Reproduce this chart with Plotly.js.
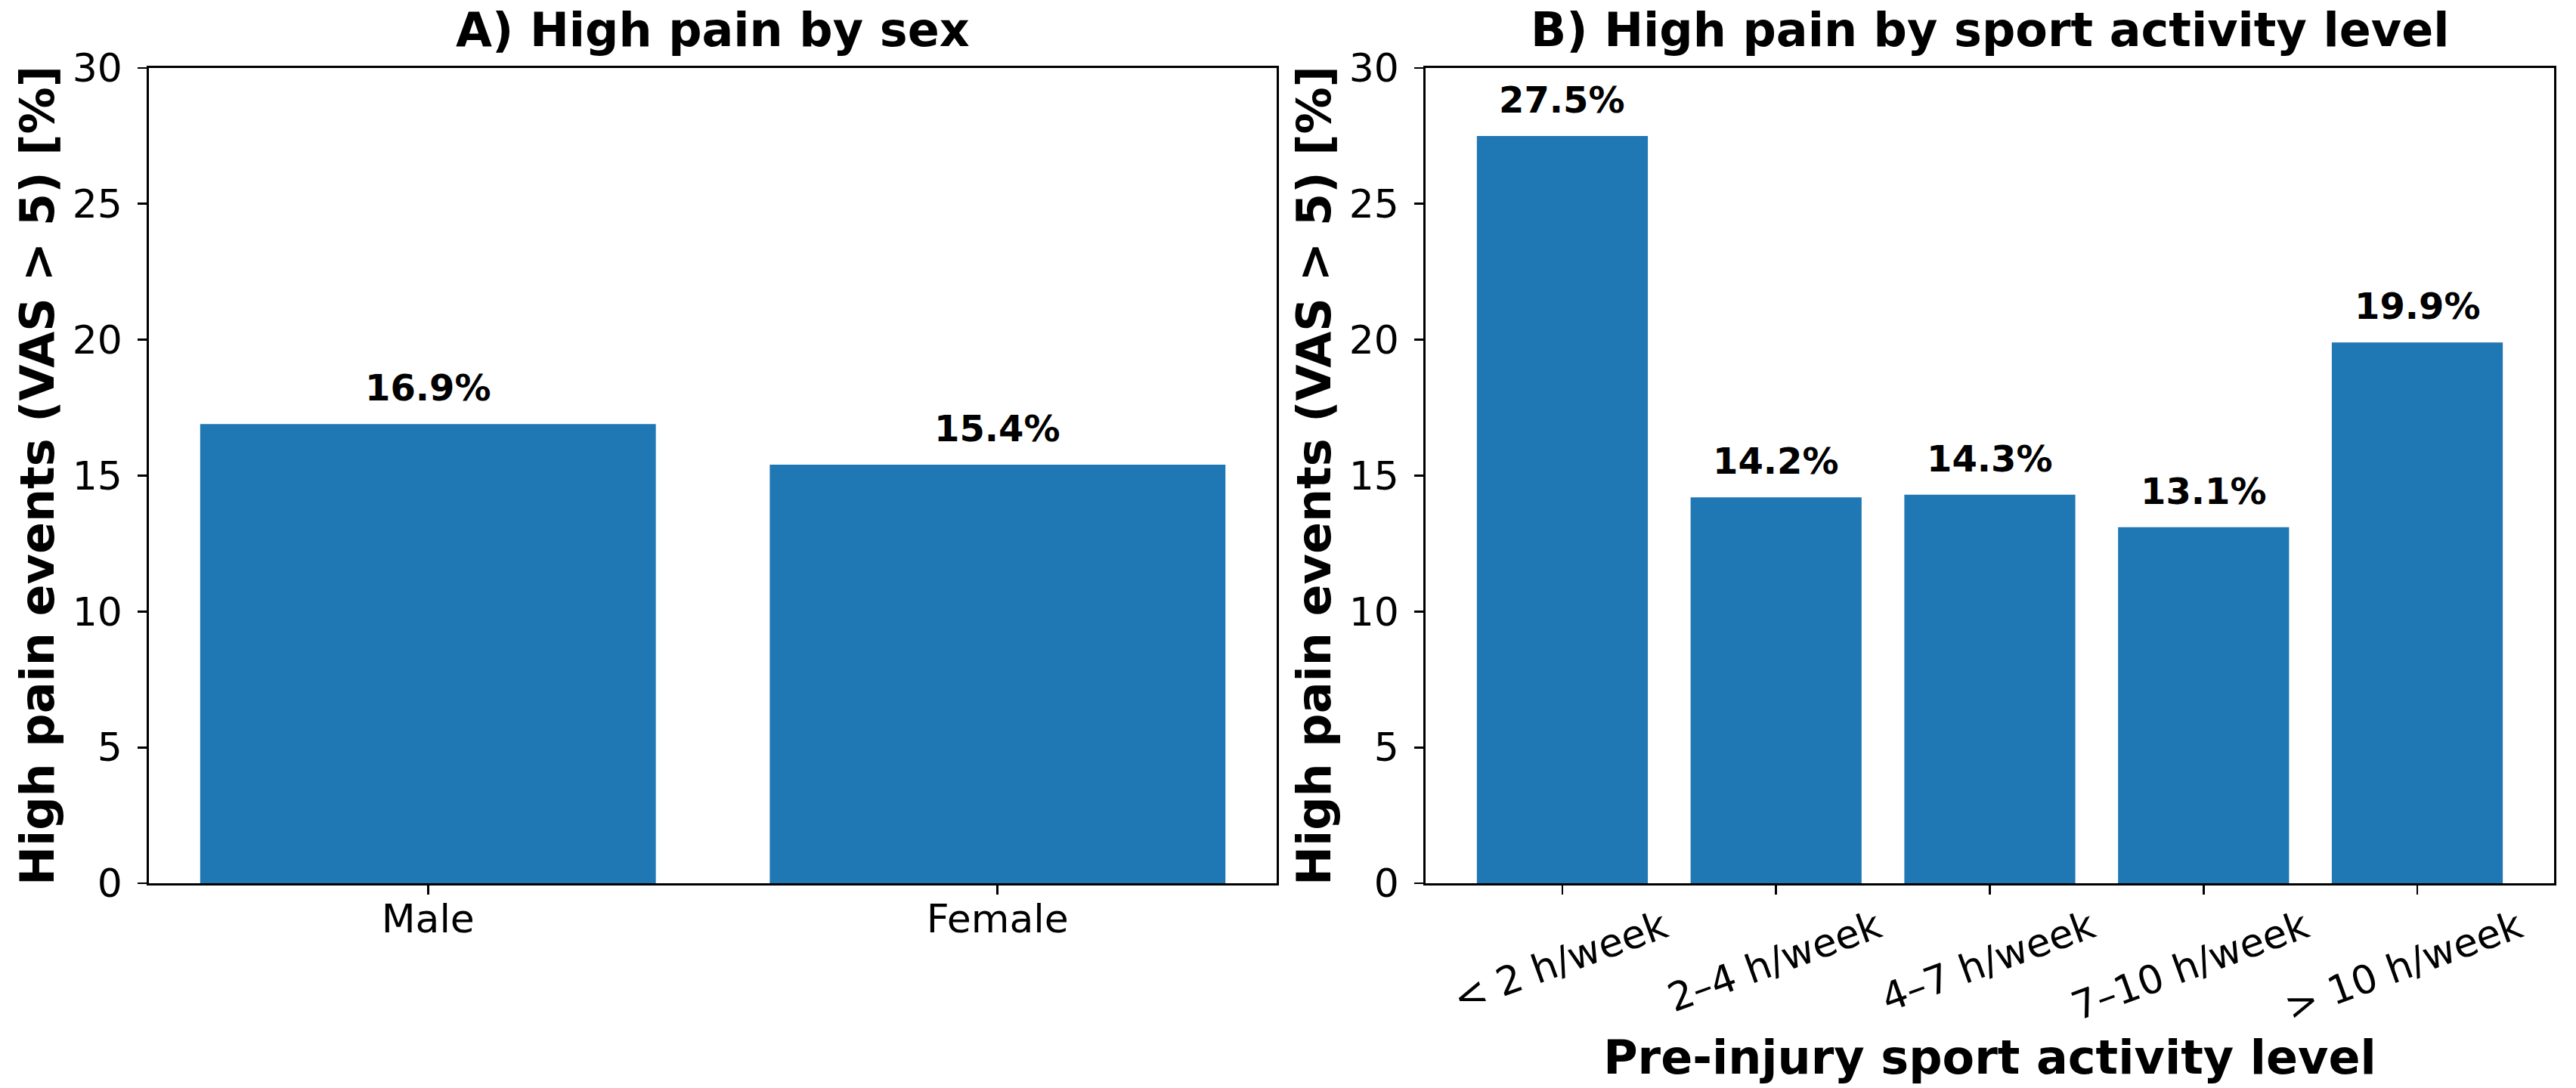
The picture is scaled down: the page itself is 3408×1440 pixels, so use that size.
<!DOCTYPE html>
<html>
<head>
<meta charset="utf-8">
<script src="https://cdn.plot.ly/plotly-3.0.1.min.js"></script>
<style>html,body{margin:0;padding:0;background:#fff;}#chart{width:3408px;height:1440px;}</style>
</head>
<body>
<div id="chart"></div>
<script>
// ---- data ----
const sexCategories = ['Male', 'Female'];
const sexValues = [16.9, 15.4];
const sportCategories = ['< 2 h/week', '2–4 h/week', '4–7 h/week', '7–10 h/week', '> 10 h/week'];
const sportValues = [27.5, 14.2, 14.3, 13.1, 19.9];
const yTickValues = [0, 5, 10, 15, 20, 25, 30];
const titleA = 'A) High pain by sex';
const titleB = 'B) High pain by sport activity level';
const yTitle = 'High pain events (VAS > 5) [%]';
const xTitleB = 'Pre-injury sport activity level';

const BLUE = '#1f77b4';
const FONT = 'DejaVu Sans';

const traces = [
  {type: 'bar', x: sexCategories, y: sexValues, xaxis: 'x', yaxis: 'y',
   marker: {color: BLUE, line: {width: 0}}, hoverinfo: 'skip'},
  {type: 'bar', x: sportCategories, y: sportValues, xaxis: 'x2', yaxis: 'y2',
   marker: {color: BLUE, line: {width: 0}}, hoverinfo: 'skip'}
];

function yAxis(anchor) {
  return {
    anchor: anchor, range: [0, 30], tickmode: 'array', tickvals: yTickValues,
    ticks: 'outside', ticklen: 12, tickwidth: 2.8, tickcolor: '#000',
    showline: true, mirror: true, linewidth: 2.8, linecolor: '#000',
    showgrid: false, zeroline: false, ticklabelstandoff: 10,
    tickfont: {family: FONT, size: 52, color: '#000'},
    title: {text: yTitle, font: {family: FONT, size: 62, color: '#000', weight: 'bold'}, standoff: 4},
    automargin: false
  };
}
function xAxis(anchor, domain, range) {
  return {
    anchor: anchor, domain: domain, range: range, type: 'category',
    ticks: 'outside', ticklen: 12, tickwidth: 2.8, tickcolor: '#000',
    showline: true, mirror: true, linewidth: 2.8, linecolor: '#000',
    showgrid: false, zeroline: false,
    tickfont: {family: FONT, size: 52, color: '#000'},
    automargin: false
  };
}

const xa = xAxis('y', [0, 0.4689], [-0.49, 1.49]);
xa.ticklabelstandoff = -12;
const xb = xAxis('y2', [0.5308, 1], [-0.64, 4.64]);
xb.tickangle = -20;
xb.ticklabelshift = 134;
xb.ticklabelstandoff = -6;
xb.title = {text: xTitleB, font: {family: FONT, size: 62, color: '#000', weight: 'bold'}, standoff: 2};

const annotations = [];
sexCategories.forEach((c, i) => annotations.push({
  xref: 'x', yref: 'y', x: c, y: sexValues[i] + 0.5, yanchor: 'bottom', xanchor: 'center',
  text: sexValues[i].toFixed(1) + '%', showarrow: false,
  font: {family: FONT, size: 48, color: '#000', weight: 'bold'}
}));
sportCategories.forEach((c, i) => annotations.push({
  xref: 'x2', yref: 'y2', x: c, y: sportValues[i] + 0.5, yanchor: 'bottom', xanchor: 'center',
  text: sportValues[i].toFixed(1) + '%', showarrow: false,
  font: {family: FONT, size: 48, color: '#000', weight: 'bold'}
}));
annotations.push({xref: 'x domain', yref: 'paper', x: 0.5, y: 1, yanchor: 'bottom', yshift: 12,
  text: titleA, showarrow: false, font: {family: FONT, size: 62, color: '#000', weight: 'bold'}});
annotations.push({xref: 'x2 domain', yref: 'paper', x: 0.5, y: 1, yanchor: 'bottom', yshift: 12,
  text: titleB, showarrow: false, font: {family: FONT, size: 62, color: '#000', weight: 'bold'}});

const layout = {
  width: 3408, height: 1440,
  margin: {l: 197, r: 29, t: 90, b: 271, pad: 0},
  paper_bgcolor: '#fff', plot_bgcolor: '#fff',
  showlegend: false, bargap: 0.2,
  font: {family: FONT, color: '#000'},
  xaxis: xa, yaxis: yAxis('x'),
  xaxis2: xb, yaxis2: yAxis('x2'),
  annotations: annotations
};

Plotly.newPlot('chart', traces, layout, {staticPlot: true, displayModeBar: false});
</script>
</body>
</html>
